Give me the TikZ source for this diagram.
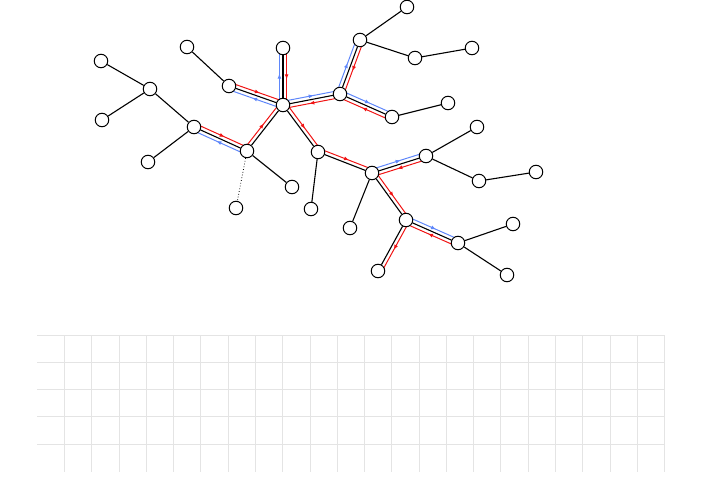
\documentclass[tikz,border=0pt]{standalone}
\usepackage{tikz}
\usetikzlibrary{arrows.meta,calc,decorations.markings,backgrounds}

\definecolor{walkred}{RGB}{240,20,20}
\definecolor{walkblue}{RGB}{95,135,250}
\definecolor{gridgray}{RGB}{228,228,228}

\tikzset{
  vtx/.style={circle,draw,fill=white,line width=1pt,minimum size=13.5pt,inner sep=0pt},
  tree/.style={line width=1.1pt},
  gridline/.style={gridgray,line width=0.9pt},
  midarrow/.style={postaction={decorate},
    decoration={markings,mark=at position 0.55 with {\arrow{Latex[length=5pt,width=4pt]}}}}
}

% offset walk along an edge, kept on the left of the direction of travel
\newcommand{\walk}[3]{\draw[#1,line width=1pt,midarrow]
  ($(#2.center)!3.6pt!90:(#3.center)$) -- ($(#3.center)!3.6pt!-90:(#2.center)$);}

\begin{document}
\begin{tikzpicture}[x=1pt,y=-1pt]

\useasboundingbox (0,0) rectangle (713,501);

% grid
\foreach \k in {0,...,4}
  \draw[gridline] (37.3,335+\k*27.27) -- (664.5,335+\k*27.27);
\foreach \k in {1,...,23}
  \draw[gridline] (37.3+\k*27.27,335) -- (37.3+\k*27.27,471.7);

% vertices
\node[vtx] (A)  at (101,61)  {};
\node[vtx] (B)  at (150,89)  {};
\node[vtx] (C)  at (102,120) {};
\node[vtx] (D)  at (148,162) {};
\node[vtx] (E)  at (194,127) {};
\node[vtx] (F)  at (187,47)  {};
\node[vtx] (G)  at (229,86)  {};
\node[vtx] (H)  at (283,48)  {};
\node[vtx] (R)  at (283,105) {};
\node[vtx] (I)  at (247,151) {};
\node[vtx] (J)  at (236,208) {};
\node[vtx] (K)  at (292,187) {};
\node[vtx] (L)  at (318,152) {};
\node[vtx] (M)  at (311,209) {};
\node[vtx] (N)  at (340,94)  {};
\node[vtx] (O)  at (360,40)  {};
\node[vtx] (P)  at (407,7)   {};
\node[vtx] (Q)  at (415,58)  {};
\node[vtx] (S)  at (472,48)  {};
\node[vtx] (T)  at (392,117) {};
\node[vtx] (U)  at (448,103) {};
\node[vtx] (V)  at (372,173) {};
\node[vtx] (W)  at (350,228) {};
\node[vtx] (X)  at (426,156) {};
\node[vtx] (Y)  at (477,127) {};
\node[vtx] (Z)  at (479,181) {};
\node[vtx] (AA) at (536,172) {};
\node[vtx] (BB) at (406,220) {};
\node[vtx] (CC) at (378,271) {};
\node[vtx] (DD) at (458,243) {};
\node[vtx] (EE) at (513,224) {};
\node[vtx] (FF) at (507,275) {};

\begin{pgfonlayer}{background}
  % tree edges
  \foreach \u/\v in {A/B,C/B,B/E,D/E,E/I,F/G,G/R,H/R,I/R,I/K,R/N,R/L,
                     N/O,O/P,O/Q,Q/S,N/T,T/U,L/M,L/V,V/W,V/X,X/Y,X/Z,
                     Z/AA,V/BB,BB/CC,BB/DD,DD/EE,DD/FF}
    {\draw[tree] (\u) -- (\v);}
  \draw[line width=0.8pt,dotted] (I) -- (J);

  % walks
  \foreach \u/\v in {E/I,I/R,G/R,H/R,N/R,O/N,T/N,R/L,L/V,X/V,V/BB,BB/CC,DD/BB}
    {\walk{walkred}{\u}{\v}}
  \foreach \u/\v in {I/E,R/G,R/H,R/N,N/O,N/T,V/X,BB/DD}
    {\walk{walkblue}{\u}{\v}}
\end{pgfonlayer}

\end{tikzpicture}
\end{document}
